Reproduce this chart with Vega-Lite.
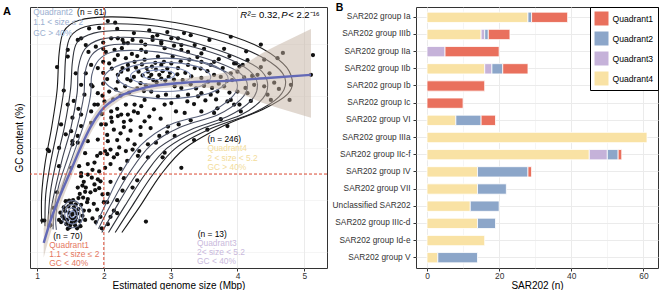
{
"$schema": "https://vega.github.io/schema/vega-lite/v6.json",
"padding": {"left": 2, "top": 2, "right": 1, "bottom": 0},
"spacing": 3,
"config": {
  "font": "Liberation Sans",
  "view": {"stroke": "#333333", "strokeWidth": 1},
  "axis": {"labelFontSize": 8.4, "labelColor": "#333333", "titleFontSize": 10, "titleFontWeight": "normal", "titleColor": "#000000", "tickColor": "#333333", "tickSize": 3, "domain": false, "gridColor": "#ebebeb", "labelPadding": 1}
},
"resolve": {"scale": {"color": "independent"}},
"datasets": {
  "pts": [
    {"x":1.53,"y":32.3},{"x":1.5,"y":31.8},{"x":1.56,"y":32.9},{"x":1.48,"y":32.6},{"x":1.58,"y":31.6},{"x":1.45,"y":31.2},{"x":1.52,"y":30.8},{"x":1.6,"y":32.4},{"x":1.42,"y":32.9},{"x":1.55,"y":33.6},
    {"x":1.47,"y":33.8},{"x":1.62,"y":33.3},{"x":1.38,"y":31.9},{"x":1.44,"y":30.4},{"x":1.57,"y":30.2},{"x":1.64,"y":31.0},{"x":1.51,"y":34.4},{"x":1.4,"y":33.6},{"x":1.66,"y":34.1},{"x":1.36,"y":30.8},
    {"x":1.49,"y":29.8},{"x":1.6,"y":29.6},{"x":1.68,"y":32.0},{"x":1.35,"y":32.6},{"x":1.54,"y":35.0},{"x":1.7,"y":33.0},{"x":1.43,"y":34.8},{"x":1.62,"y":35.4},{"x":1.5,"y":30.3},{"x":1.58,"y":34.2},
    {"x":1.46,"y":29.5},{"x":1.72,"y":31.2},{"x":1.53,"y":31.4},{"x":1.41,"y":31.5},{"x":1.65,"y":30.0},{"x":1.33,"y":31.2},{"x":1.75,"y":34.6},{"x":1.57,"y":31.0},{"x":1.48,"y":34.9},{"x":1.69,"y":35.5},
    {"x":1.08,"y":31.1},{"x":1.11,"y":31.1},{"x":1.2,"y":30.2},{"x":1.25,"y":33.5},{"x":1.3,"y":36.5},
    {"x":1.61,"y":37.4},{"x":1.73,"y":37.4},{"x":1.86,"y":38.0},{"x":1.98,"y":36.1},{"x":2.0,"y":34.6},{"x":1.8,"y":36.5},{"x":1.76,"y":35.2},{"x":1.85,"y":34.3},{"x":1.9,"y":33.2},{"x":1.95,"y":31.8},
    {"x":1.82,"y":39.3},{"x":1.91,"y":39.0},{"x":1.76,"y":39.9},{"x":1.66,"y":39.6},{"x":1.7,"y":38.5},{"x":1.93,"y":37.3},{"x":1.78,"y":33.0},{"x":1.88,"y":30.8},{"x":1.97,"y":29.6},{"x":1.83,"y":31.5},
    {"x":1.72,"y":36.6},{"x":1.64,"y":36.2},{"x":1.95,"y":38.6},{"x":1.87,"y":36.9},{"x":1.68,"y":37.8},
    {"x":1.16,"y":44.7},{"x":1.18,"y":44.4},{"x":1.33,"y":45.0},{"x":1.33,"y":41.5},{"x":1.51,"y":41.2},{"x":1.63,"y":41.5},{"x":1.76,"y":41.9},{"x":1.86,"y":42.2},{"x":1.83,"y":40.8},{"x":1.93,"y":40.5},
    {"x":1.66,"y":40.2},{"x":1.53,"y":45.7},{"x":1.51,"y":48.2},{"x":1.36,"y":49.5},{"x":1.61,"y":47.3},{"x":1.43,"y":47.6},{"x":1.53,"y":46.3},{"x":1.61,"y":46.0},{"x":1.76,"y":46.3},{"x":1.91,"y":46.6},
    {"x":1.81,"y":49.8},{"x":1.66,"y":49.2},{"x":1.96,"y":49.5},{"x":1.53,"y":50.8},{"x":1.66,"y":51.4},{"x":1.81,"y":52.0},{"x":1.46,"y":53.3},{"x":1.91,"y":53.3},{"x":1.71,"y":55.2},{"x":1.83,"y":56.8},
    {"x":1.66,"y":57.1},{"x":1.58,"y":59.3},{"x":1.73,"y":59.3},{"x":1.81,"y":60.9},{"x":1.91,"y":60.3},{"x":1.77,"y":63.4},{"x":1.88,"y":64.4},{"x":1.46,"y":63.8},{"x":1.46,"y":62.5},{"x":1.73,"y":64.7},
    {"x":1.61,"y":65.7},{"x":1.66,"y":66.0},{"x":1.78,"y":67.9},{"x":1.93,"y":68.0},{"x":1.86,"y":53.3},{"x":1.91,"y":55.5},{"x":1.81,"y":57.1},{"x":1.99,"y":65.2},{"x":1.99,"y":64.0},{"x":1.99,"y":61.5},
    {"x":1.99,"y":59.4},{"x":1.99,"y":57.3},{"x":1.98,"y":55.0},{"x":1.97,"y":51.5},{"x":1.95,"y":44.0},{"x":1.9,"y":43.5},{"x":1.72,"y":44.0},{"x":1.4,"y":56.0},{"x":1.3,"y":60.5},{"x":1.55,"y":54.0},{"x":1.62,"y":52.5},
    {"x":2.63,"y":30.9},{"x":2.06,"y":30.4},{"x":2.1,"y":31.8},{"x":2.15,"y":33.0},{"x":2.2,"y":35.0},{"x":2.28,"y":36.8},{"x":2.43,"y":37.4},{"x":2.05,"y":34.6},{"x":2.1,"y":38.5},{"x":2.3,"y":39.2},{"x":2.5,"y":38.8},{"x":2.06,"y":36.2},{"x":2.2,"y":32.5},
    {"x":2.06,"y":69.3},{"x":2.17,"y":69.0},{"x":2.11,"y":66.0},{"x":2.03,"y":63.4},{"x":2.16,"y":63.8},{"x":2.28,"y":65.7},{"x":2.3,"y":65.1},{"x":2.43,"y":65.7},{"x":2.56,"y":63.8},{"x":2.73,"y":65.7},
    {"x":2.86,"y":65.0},{"x":2.91,"y":64.1},{"x":2.81,"y":62.5},{"x":2.63,"y":63.4},{"x":2.33,"y":62.2},{"x":2.36,"y":60.9},{"x":2.28,"y":60.3},{"x":2.21,"y":59.0},{"x":2.46,"y":61.5},{"x":2.61,"y":61.9},
    {"x":2.66,"y":59.6},{"x":2.71,"y":59.0},{"x":2.78,"y":60.0},{"x":2.86,"y":60.9},{"x":2.83,"y":59.0},{"x":3.01,"y":61.2},{"x":3.11,"y":60.3},{"x":3.03,"y":62.5},{"x":3.16,"y":63.8},{"x":3.11,"y":66.0},
    {"x":3.26,"y":60.9},{"x":3.36,"y":60.3},{"x":3.46,"y":61.5},{"x":3.58,"y":65.7},{"x":3.31,"y":58.7},{"x":3.46,"y":58.4},{"x":3.56,"y":57.7},{"x":3.65,"y":59.0},{"x":3.78,"y":60.3},{"x":3.9,"y":59.3},
    {"x":3.95,"y":61.2},{"x":4.0,"y":55.8},{"x":3.8,"y":56.8},{"x":3.7,"y":55.8},{"x":3.6,"y":55.2},{"x":3.46,"y":55.5},{"x":3.41,"y":54.9},{"x":3.26,"y":55.2},{"x":3.16,"y":56.5},{"x":3.06,"y":56.8},
    {"x":2.93,"y":55.2},{"x":2.91,"y":53.3},{"x":3.01,"y":53.6},{"x":3.11,"y":54.9},{"x":2.81,"y":54.9},{"x":2.71,"y":55.8},{"x":2.61,"y":54.2},{"x":2.56,"y":53.0},{"x":2.46,"y":53.3},{"x":2.33,"y":53.3},
    {"x":2.26,"y":51.4},{"x":2.51,"y":51.7},{"x":2.61,"y":50.1},{"x":3.08,"y":52.0},{"x":3.21,"y":51.7},{"x":3.46,"y":52.0},{"x":3.65,"y":51.7},{"x":3.85,"y":53.9},{"x":2.08,"y":55.8},{"x":2.01,"y":53.9},{"x":2.11,"y":52.0},
    {"x":2.21,"y":62.8},{"x":2.16,"y":61.9},{"x":2.26,"y":59.6},{"x":2.21,"y":57.7},{"x":2.36,"y":60.0},{"x":2.21,"y":66.0},{"x":2.36,"y":65.1},{"x":2.56,"y":65.4},{"x":2.73,"y":66.3},{"x":2.86,"y":65.4},
    {"x":3.01,"y":66.0},{"x":3.16,"y":64.7},{"x":3.36,"y":64.7},{"x":3.46,"y":63.1},{"x":3.26,"y":63.4},{"x":3.65,"y":61.5},{"x":2.11,"y":50.8},{"x":2.21,"y":51.1},{"x":2.36,"y":51.4},{"x":2.06,"y":46.3},
    {"x":2.36,"y":46.6},{"x":2.46,"y":45.7},{"x":2.53,"y":44.4},{"x":2.66,"y":45.7},{"x":2.83,"y":47.3},{"x":3.06,"y":47.3},
    {"x":3.98,"y":61.2},{"x":4.03,"y":60.6},{"x":4.08,"y":60.9},{"x":4.4,"y":61.9},{"x":4.48,"y":59.3},{"x":4.25,"y":57.1},{"x":4.4,"y":56.8},{"x":4.8,"y":57.1},{"x":4.78,"y":54.2},{"x":4.5,"y":54.2},
    {"x":5.13,"y":62.8},{"x":5.1,"y":59.0},{"x":3.9,"y":54.2},{"x":3.95,"y":53.3},{"x":4.03,"y":53.3},{"x":3.7,"y":52.6},{"x":4.0,"y":59.6},{"x":4.1,"y":58.5},{"x":3.92,"y":58.0},{"x":4.22,"y":58.8},
    {"x":4.15,"y":55.5},{"x":4.35,"y":60.5},{"x":4.6,"y":62.2},{"x":4.13,"y":63.5},
    {"x":2.02,"y":41.2},{"x":2.1,"y":41.9},{"x":2.15,"y":43.2},{"x":2.2,"y":43.8},{"x":2.05,"y":43.8},{"x":2.02,"y":44.4},{"x":2.1,"y":44.7},{"x":2.23,"y":45.1},{"x":2.33,"y":44.4},{"x":2.43,"y":44.7},
    {"x":2.51,"y":43.5},{"x":2.66,"y":43.2},{"x":2.88,"y":43.2},{"x":2.91,"y":44.1},{"x":3.16,"y":41.2},{"x":2.05,"y":47.5},{"x":2.15,"y":48.5},{"x":2.25,"y":47.8},{"x":2.3,"y":49.0},{"x":2.4,"y":48.3},
    {"x":2.55,"y":47.5},{"x":2.7,"y":48.8},{"x":2.2,"y":46.5},{"x":2.35,"y":42.5},{"x":2.25,"y":41.0},
    {"x":2.68,"y":58.4},{"x":2.74,"y":58.0},{"x":2.79,"y":57.6},{"x":2.86,"y":58.3},{"x":2.92,"y":57.9},{"x":2.97,"y":58.6},{"x":2.88,"y":59.7},{"x":2.95,"y":60.2},{"x":2.72,"y":60.6},{"x":2.64,"y":60.3},
    {"x":2.58,"y":58.9},{"x":2.52,"y":59.6},{"x":2.9,"y":61.5},{"x":2.99,"y":59.4},{"x":3.05,"y":58.1},{"x":3.1,"y":59.1},{"x":3.18,"y":58.0},{"x":3.22,"y":59.4},{"x":3.15,"y":61.6},{"x":2.77,"y":61.3},
    {"x":3.3,"y":57.2},{"x":3.38,"y":56.4},{"x":3.5,"y":56.9},{"x":3.55,"y":59.7},{"x":3.62,"y":56.5},{"x":3.72,"y":57.3},{"x":3.75,"y":58.6},{"x":3.84,"y":57.8},{"x":3.88,"y":55.6},{"x":3.68,"y":54.3},
    {"x":3.52,"y":54.1},{"x":3.35,"y":53.4},{"x":3.25,"y":53.9},{"x":3.45,"y":60.2},{"x":3.6,"y":60.9},{"x":3.72,"y":62.0},{"x":3.88,"y":62.6},{"x":3.8,"y":64.0},{"x":3.4,"y":62.4},{"x":3.28,"y":61.9},
    {"x":2.05,"y":58.2},{"x":2.12,"y":60.2},{"x":2.18,"y":56.2},{"x":2.25,"y":55.0},{"x":2.32,"y":56.8},{"x":2.4,"y":57.9},{"x":2.45,"y":58.6},{"x":2.38,"y":55.6},{"x":2.5,"y":56.4},{"x":2.55,"y":57.4},
    {"x":2.6,"y":55.9},{"x":2.42,"y":63.0},{"x":2.5,"y":62.6},{"x":2.27,"y":64.1},{"x":2.08,"y":61.2},{"x":2.14,"y":54.3},{"x":2.48,"y":60.4},{"x":2.57,"y":61.0},{"x":2.35,"y":58.2},{"x":2.63,"y":57.0},
    {"x":2.03,"y":49.5},{"x":2.12,"y":50.0},{"x":2.2,"y":52.5},{"x":2.4,"y":50.3},{"x":2.55,"y":49.0},{"x":2.68,"y":51.0},{"x":2.75,"y":52.4},{"x":2.85,"y":50.6},{"x":2.96,"y":49.1},{"x":2.45,"y":52.0},
    {"x":2.3,"y":50.0},{"x":2.78,"y":46.0},{"x":2.95,"y":48.0},{"x":3.12,"y":49.5},{"x":3.3,"y":50.3},
    {"x":2.95,"y":67.2},{"x":3.2,"y":67.0},{"x":3.05,"y":64.6},{"x":2.68,"y":67.5},{"x":2.45,"y":67.0},{"x":2.2,"y":67.8},{"x":3.5,"y":64.0},{"x":3.3,"y":66.6},{"x":2.62,"y":64.8},{"x":2.8,"y":66.6},
    {"x":4.12,"y":56.5},{"x":4.3,"y":59.0},{"x":4.55,"y":57.5},{"x":4.2,"y":54.0},{"x":4.05,"y":52.0},{"x":3.75,"y":50.5},{"x":4.35,"y":64.8},{"x":4.68,"y":63.2},{"x":4.62,"y":56.3},{"x":3.9,"y":66.3},
    {"x":4.15,"y":61.8},{"x":4.45,"y":55.2},{"x":3.55,"y":48.5},{"x":3.35,"y":46.5},{"x":3.85,"y":49.2}
  ],
  "cont": [
    {"c":"k1","l":1,"o":1,"x":2.27,"y":28.8},{"c":"k1","l":1,"o":2,"x":2.55,"y":34},{"c":"k1","l":1,"o":3,"x":2.86,"y":40},{"c":"k1","l":1,"o":4,"x":3.22,"y":45},{"c":"k1","l":1,"o":5,"x":3.8,"y":49.3},{"c":"k1","l":1,"o":6,"x":4.4,"y":52.5},{"c":"k1","l":1,"o":7,"x":4.75,"y":55.3},{"c":"k1","l":1,"o":8,"x":4.82,"y":58},{"c":"k1","l":1,"o":9,"x":4.68,"y":61.2},{"c":"k1","l":1,"o":10,"x":4.25,"y":64.8},{"c":"k1","l":1,"o":11,"x":3.6,"y":67.6},{"c":"k1","l":1,"o":12,"x":2.8,"y":69.5},{"c":"k1","l":1,"o":13,"x":2.1,"y":70.1},{"c":"k1","l":1,"o":14,"x":1.62,"y":69.4},{"c":"k1","l":1,"o":15,"x":1.4,"y":67.3},{"c":"k1","l":1,"o":16,"x":1.33,"y":63},{"c":"k1","l":1,"o":17,"x":1.3,"y":56},{"c":"k1","l":1,"o":18,"x":1.22,"y":49},{"c":"k1","l":1,"o":19,"x":1.12,"y":42},{"c":"k1","l":1,"o":20,"x":1.07,"y":36},{"c":"k1","l":1,"o":21,"x":1.07,"y":30.5},
    {"c":"k2","l":2,"o":1,"x":2.17,"y":28.8},{"c":"k2","l":2,"o":2,"x":2.43,"y":34},{"c":"k2","l":2,"o":3,"x":2.74,"y":40},{"c":"k2","l":2,"o":4,"x":3.08,"y":45},{"c":"k2","l":2,"o":5,"x":3.62,"y":48.8},{"c":"k2","l":2,"o":6,"x":4.25,"y":51.8},{"c":"k2","l":2,"o":7,"x":4.62,"y":54.8},{"c":"k2","l":2,"o":8,"x":4.72,"y":57.8},{"c":"k2","l":2,"o":9,"x":4.58,"y":60.6},{"c":"k2","l":2,"o":10,"x":4.15,"y":63.7},{"c":"k2","l":2,"o":11,"x":3.5,"y":66.4},{"c":"k2","l":2,"o":12,"x":2.8,"y":68.3},{"c":"k2","l":2,"o":13,"x":2.15,"y":68.8},{"c":"k2","l":2,"o":14,"x":1.72,"y":68.2},{"c":"k2","l":2,"o":15,"x":1.5,"y":66.3},{"c":"k2","l":2,"o":16,"x":1.43,"y":62.5},{"c":"k2","l":2,"o":17,"x":1.4,"y":56},{"c":"k2","l":2,"o":18,"x":1.31,"y":49},{"c":"k2","l":2,"o":19,"x":1.2,"y":42},{"c":"k2","l":2,"o":20,"x":1.13,"y":36},{"c":"k2","l":2,"o":21,"x":1.12,"y":30},
    {"c":"k3","l":3,"o":1,"x":2.07,"y":28.8},{"c":"k3","l":3,"o":2,"x":2.32,"y":34},{"c":"k3","l":3,"o":3,"x":2.62,"y":40},{"c":"k3","l":3,"o":4,"x":2.95,"y":45},{"c":"k3","l":3,"o":5,"x":3.45,"y":48.6},{"c":"k3","l":3,"o":6,"x":4.05,"y":51.3},{"c":"k3","l":3,"o":7,"x":4.38,"y":54.5},{"c":"k3","l":3,"o":8,"x":4.45,"y":57.5},{"c":"k3","l":3,"o":9,"x":4.32,"y":60.2},{"c":"k3","l":3,"o":10,"x":3.95,"y":62.6},{"c":"k3","l":3,"o":11,"x":3.4,"y":65.0},{"c":"k3","l":3,"o":12,"x":2.8,"y":67},{"c":"k3","l":3,"o":13,"x":2.25,"y":67.5},{"c":"k3","l":3,"o":14,"x":1.85,"y":67},{"c":"k3","l":3,"o":15,"x":1.6,"y":65.2},{"c":"k3","l":3,"o":16,"x":1.53,"y":61.5},{"c":"k3","l":3,"o":17,"x":1.5,"y":56},{"c":"k3","l":3,"o":18,"x":1.41,"y":49},{"c":"k3","l":3,"o":19,"x":1.29,"y":42.5},{"c":"k3","l":3,"o":20,"x":1.2,"y":36.5},{"c":"k3","l":3,"o":21,"x":1.16,"y":29.8},
    {"c":"k4","l":4,"o":1,"x":1.97,"y":28.8},{"c":"k4","l":4,"o":2,"x":2.2,"y":34},{"c":"k4","l":4,"o":3,"x":2.49,"y":40},{"c":"k4","l":4,"o":4,"x":2.82,"y":45},{"c":"k4","l":4,"o":5,"x":3.3,"y":48.5},{"c":"k4","l":4,"o":6,"x":3.85,"y":51},{"c":"k4","l":4,"o":7,"x":4.2,"y":54},{"c":"k4","l":4,"o":8,"x":4.3,"y":57.2},{"c":"k4","l":4,"o":9,"x":4.18,"y":59.8},{"c":"k4","l":4,"o":10,"x":3.85,"y":62.2},{"c":"k4","l":4,"o":11,"x":3.35,"y":64.3},{"c":"k4","l":4,"o":12,"x":2.8,"y":65.8},{"c":"k4","l":4,"o":13,"x":2.3,"y":66.2},{"c":"k4","l":4,"o":14,"x":1.95,"y":65.8},{"c":"k4","l":4,"o":15,"x":1.72,"y":64},{"c":"k4","l":4,"o":16,"x":1.62,"y":60.5},{"c":"k4","l":4,"o":17,"x":1.6,"y":55.5},{"c":"k4","l":4,"o":18,"x":1.51,"y":49},{"c":"k4","l":4,"o":19,"x":1.38,"y":43},{"c":"k4","l":4,"o":20,"x":1.27,"y":37},{"c":"k4","l":4,"o":21,"x":1.21,"y":33},{"c":"k4","l":4,"o":22,"x":1.2,"y":29.6},
    {"c":"k5","l":5,"o":1,"x":1.92,"y":29.5},{"c":"k5","l":5,"o":2,"x":2.1,"y":34},{"c":"k5","l":5,"o":3,"x":2.37,"y":40},{"c":"k5","l":5,"o":4,"x":2.7,"y":45.5},{"c":"k5","l":5,"o":5,"x":3.15,"y":49},{"c":"k5","l":5,"o":6,"x":3.7,"y":51.3},{"c":"k5","l":5,"o":7,"x":4.05,"y":54.3},{"c":"k5","l":5,"o":8,"x":4.15,"y":57},{"c":"k5","l":5,"o":9,"x":4.03,"y":59.4},{"c":"k5","l":5,"o":10,"x":3.7,"y":61.4},{"c":"k5","l":5,"o":11,"x":3.25,"y":63.2},{"c":"k5","l":5,"o":12,"x":2.8,"y":64.6},{"c":"k5","l":5,"o":13,"x":2.35,"y":64.9},{"c":"k5","l":5,"o":14,"x":2.03,"y":64.5},{"c":"k5","l":5,"o":15,"x":1.82,"y":62.8},{"c":"k5","l":5,"o":16,"x":1.72,"y":59.5},{"c":"k5","l":5,"o":17,"x":1.7,"y":55},{"c":"k5","l":5,"o":18,"x":1.6,"y":49},{"c":"k5","l":5,"o":19,"x":1.47,"y":43.5},{"c":"k5","l":5,"o":20,"x":1.33,"y":38},{"c":"k5","l":5,"o":21,"x":1.26,"y":33.5},{"c":"k5","l":5,"o":22,"x":1.24,"y":29.4},
    {"c":"k6","l":6,"o":1,"x":1.88,"y":30.2},{"c":"k6","l":6,"o":2,"x":2.02,"y":34},{"c":"k6","l":6,"o":3,"x":2.25,"y":40},{"c":"k6","l":6,"o":4,"x":2.55,"y":45.5},{"c":"k6","l":6,"o":5,"x":3.0,"y":49.5},{"c":"k6","l":6,"o":6,"x":3.55,"y":51.6},{"c":"k6","l":6,"o":7,"x":3.9,"y":54.5},{"c":"k6","l":6,"o":8,"x":4.0,"y":57},{"c":"k6","l":6,"o":9,"x":3.88,"y":59.2},{"c":"k6","l":6,"o":10,"x":3.55,"y":61},{"c":"k6","l":6,"o":11,"x":3.15,"y":62.5},{"c":"k6","l":6,"o":12,"x":2.8,"y":63.4},{"c":"k6","l":6,"o":13,"x":2.4,"y":63.7},{"c":"k6","l":6,"o":14,"x":2.1,"y":63.3},{"c":"k6","l":6,"o":15,"x":1.92,"y":61.8},{"c":"k6","l":6,"o":16,"x":1.82,"y":59},{"c":"k6","l":6,"o":17,"x":1.8,"y":55},{"c":"k6","l":6,"o":18,"x":1.7,"y":49.5},{"c":"k6","l":6,"o":19,"x":1.55,"y":44},{"c":"k6","l":6,"o":20,"x":1.4,"y":38.5},{"c":"k6","l":6,"o":21,"x":1.31,"y":34.5},{"c":"k6","l":6,"o":22,"x":1.28,"y":31.5},{"c":"k6","l":6,"o":23,"x":1.29,"y":29.3}
  ],
  "rings": [
    {"c":"R4","l":7,"o":1,"x":3.86,"y":58.3},{"c":"R4","l":7,"o":2,"x":3.59,"y":61.06},{"c":"R4","l":7,"o":3,"x":2.93,"y":62.2},{"c":"R4","l":7,"o":4,"x":2.27,"y":61.06},{"c":"R4","l":7,"o":5,"x":2.0,"y":58.3},{"c":"R4","l":7,"o":6,"x":2.27,"y":55.54},{"c":"R4","l":7,"o":7,"x":2.93,"y":54.4},{"c":"R4","l":7,"o":8,"x":3.59,"y":55.54},
    {"c":"R3","l":8,"o":1,"x":3.6,"y":58.6},{"c":"R3","l":8,"o":2,"x":3.4,"y":60.58},{"c":"R3","l":8,"o":3,"x":2.9,"y":61.4},{"c":"R3","l":8,"o":4,"x":2.4,"y":60.58},{"c":"R3","l":8,"o":5,"x":2.2,"y":58.6},{"c":"R3","l":8,"o":6,"x":2.4,"y":56.62},{"c":"R3","l":8,"o":7,"x":2.9,"y":55.8},{"c":"R3","l":8,"o":8,"x":3.4,"y":56.62},
    {"c":"R2","l":9,"o":1,"x":3.3,"y":58.8},{"c":"R2","l":9,"o":2,"x":3.17,"y":60.04},{"c":"R2","l":9,"o":3,"x":2.85,"y":60.55},{"c":"R2","l":9,"o":4,"x":2.53,"y":60.04},{"c":"R2","l":9,"o":5,"x":2.4,"y":58.8},{"c":"R2","l":9,"o":6,"x":2.53,"y":57.56},{"c":"R2","l":9,"o":7,"x":2.85,"y":57.05},{"c":"R2","l":9,"o":8,"x":3.17,"y":57.56},
    {"c":"R1","l":10,"o":1,"x":3.06,"y":59.0},{"c":"R1","l":10,"o":2,"x":2.99,"y":59.64},{"c":"R1","l":10,"o":3,"x":2.82,"y":59.9},{"c":"R1","l":10,"o":4,"x":2.65,"y":59.64},{"c":"R1","l":10,"o":5,"x":2.58,"y":59.0},{"c":"R1","l":10,"o":6,"x":2.65,"y":58.36},{"c":"R1","l":10,"o":7,"x":2.82,"y":58.1},{"c":"R1","l":10,"o":8,"x":2.99,"y":58.36},
    {"c":"L4","l":7,"o":1,"x":1.69,"y":32.3},{"c":"L4","l":7,"o":2,"x":1.642,"y":34.12},{"c":"L4","l":7,"o":3,"x":1.53,"y":34.9},{"c":"L4","l":7,"o":4,"x":1.418,"y":34.12},{"c":"L4","l":7,"o":5,"x":1.37,"y":32.3},{"c":"L4","l":7,"o":6,"x":1.418,"y":30.48},{"c":"L4","l":7,"o":7,"x":1.53,"y":29.7},{"c":"L4","l":7,"o":8,"x":1.642,"y":30.48},
    {"c":"L3","l":8,"o":1,"x":1.645,"y":32.3},{"c":"L3","l":8,"o":2,"x":1.61,"y":33.63},{"c":"L3","l":8,"o":3,"x":1.53,"y":34.2},{"c":"L3","l":8,"o":4,"x":1.45,"y":33.63},{"c":"L3","l":8,"o":5,"x":1.415,"y":32.3},{"c":"L3","l":8,"o":6,"x":1.45,"y":30.97},{"c":"L3","l":8,"o":7,"x":1.53,"y":30.4},{"c":"L3","l":8,"o":8,"x":1.61,"y":30.97},
    {"c":"L2","l":9,"o":1,"x":1.605,"y":32.3},{"c":"L2","l":9,"o":2,"x":1.583,"y":33.18},{"c":"L2","l":9,"o":3,"x":1.53,"y":33.55},{"c":"L2","l":9,"o":4,"x":1.477,"y":33.18},{"c":"L2","l":9,"o":5,"x":1.455,"y":32.3},{"c":"L2","l":9,"o":6,"x":1.477,"y":31.42},{"c":"L2","l":9,"o":7,"x":1.53,"y":31.05},{"c":"L2","l":9,"o":8,"x":1.583,"y":31.42},
    {"c":"L1","l":10,"o":1,"x":1.57,"y":32.3},{"c":"L1","l":10,"o":2,"x":1.558,"y":32.76},{"c":"L1","l":10,"o":3,"x":1.53,"y":32.95},{"c":"L1","l":10,"o":4,"x":1.502,"y":32.76},{"c":"L1","l":10,"o":5,"x":1.49,"y":32.3},{"c":"L1","l":10,"o":6,"x":1.502,"y":31.84},{"c":"L1","l":10,"o":7,"x":1.53,"y":31.65},{"c":"L1","l":10,"o":8,"x":1.558,"y":31.84}
  ],
  "sm": [
    {"x":1.1,"y":26.8,"lo":24.0,"hi":29.6},{"x":1.2,"y":31,"lo":28.6,"hi":33.4},{"x":1.35,"y":36,"lo":34.1,"hi":37.9},{"x":1.5,"y":40.5,"lo":39.0,"hi":42.0},{"x":1.65,"y":45,"lo":43.6,"hi":46.4},{"x":1.8,"y":49,"lo":47.7,"hi":50.3},{"x":1.95,"y":52,"lo":50.9,"hi":53.1},{"x":2.2,"y":54.6,"lo":53.8,"hi":55.4},{"x":2.6,"y":56.5,"lo":55.8,"hi":57.2},{"x":3.2,"y":57.5,"lo":56.7,"hi":58.3},{"x":3.9,"y":57.9,"lo":55.9,"hi":59.8},{"x":4.45,"y":58.4,"lo":53.3,"hi":63.7},{"x":5.1,"y":59.0,"lo":50.8,"hi":67.8}
  ],
  "ann": [
    {"x":0.944,"y":71.05,"t":"Quadrant2","k":"Q2"},{"x":1.6,"y":71.05,"t":"(n = 61)","k":"n"},{"x":0.944,"y":69.1,"t":"1.1 < size ≤ 2","k":"Q2"},{"x":0.944,"y":67.1,"t":"GC > 40%","k":"Q2"},
    {"x":3.55,"y":46.7,"t":"(n = 246)","k":"n"},{"x":3.55,"y":44.9,"t":"Quadrant4","k":"Q4"},{"x":3.55,"y":43.1,"t":"2 < size < 5.2","k":"Q4"},{"x":3.55,"y":41.3,"t":"GC > 40%","k":"Q4"},
    {"x":1.244,"y":28.1,"t":"(n = 70)","k":"n"},{"x":1.184,"y":26.4,"t":"Quadrant1","k":"Q1"},{"x":1.184,"y":24.7,"t":"1.1 < size ≤ 2","k":"Q1"},{"x":1.184,"y":23.0,"t":"GC < 40%","k":"Q1"},
    {"x":3.405,"y":28.5,"t":"(n = 13)","k":"n"},{"x":3.395,"y":26.8,"t":"Quadrant3","k":"Q3"},{"x":3.395,"y":25.1,"t":"2< size < 5.2","k":"Q3"},{"x":3.395,"y":23.4,"t":"GC < 40%","k":"Q3"},
    {"x":4.043,"y":70.5,"t":"R²","k":"it"},{"x":4.2,"y":70.5,"t":"= 0.32,","k":"r"},{"x":4.655,"y":70.5,"t":"P","k":"it"},{"x":4.76,"y":70.5,"t":"< 2.2⁻¹⁶","k":"r"},
    {"x":0.491,"y":70.95,"t":"A","k":"b"}
  ],
  "bars": [
    {"g":"SAR202 group Ia","q":"Quadrant4","n":28},{"g":"SAR202 group Ia","q":"Quadrant2","n":1},{"g":"SAR202 group Ia","q":"Quadrant1","n":10},
    {"g":"SAR202 group IIIb","q":"Quadrant4","n":15},{"g":"SAR202 group IIIb","q":"Quadrant3","n":1},{"g":"SAR202 group IIIb","q":"Quadrant2","n":1},{"g":"SAR202 group IIIb","q":"Quadrant1","n":6},
    {"g":"SAR202 group IIa","q":"Quadrant3","n":5},{"g":"SAR202 group IIa","q":"Quadrant1","n":15},
    {"g":"SAR202 group IIb","q":"Quadrant4","n":16},{"g":"SAR202 group IIb","q":"Quadrant3","n":2},{"g":"SAR202 group IIb","q":"Quadrant2","n":3},{"g":"SAR202 group IIb","q":"Quadrant1","n":7},
    {"g":"SAR202 group Ib","q":"Quadrant1","n":16},
    {"g":"SAR202 group Ic","q":"Quadrant1","n":10},
    {"g":"SAR202 group VI","q":"Quadrant4","n":8},{"g":"SAR202 group VI","q":"Quadrant2","n":7},{"g":"SAR202 group VI","q":"Quadrant1","n":4},
    {"g":"SAR202 group IIIa","q":"Quadrant4","n":61},
    {"g":"SAR202 group IIc-f","q":"Quadrant4","n":45},{"g":"SAR202 group IIc-f","q":"Quadrant3","n":5},{"g":"SAR202 group IIc-f","q":"Quadrant2","n":3},{"g":"SAR202 group IIc-f","q":"Quadrant1","n":1},
    {"g":"SAR202 group IV","q":"Quadrant4","n":14},{"g":"SAR202 group IV","q":"Quadrant2","n":14},{"g":"SAR202 group IV","q":"Quadrant1","n":1},
    {"g":"SAR202 group VII","q":"Quadrant4","n":14},{"g":"SAR202 group VII","q":"Quadrant2","n":8},
    {"g":"Unclassified SAR202","q":"Quadrant4","n":12},{"g":"Unclassified SAR202","q":"Quadrant2","n":8},
    {"g":"SAR202 group IIIc-d","q":"Quadrant4","n":14},{"g":"SAR202 group IIIc-d","q":"Quadrant2","n":5},
    {"g":"SAR202 group Id-e","q":"Quadrant4","n":16},
    {"g":"SAR202 group V","q":"Quadrant4","n":3},{"g":"SAR202 group V","q":"Quadrant2","n":11}
  ]
},
"hconcat": [
  {
    "width": 297, "height": 261,
    "layer": [
      {"data": {"name": "pts"}, "mark": {"type": "circle", "size": 18, "color": "#111111", "opacity": 1},
       "encoding": {
         "x": {"field": "x", "type": "quantitative", "scale": {"domain": [0.895, 5.34], "nice": false, "zero": false},
               "axis": {"title": "Estimated genome size (Mbp)", "values": [1,1.5,2,2.5,3,3.5,4,4.5,5], "labelExpr": "datum.value % 1 == 0 ? '' + datum.value : ''", "tickOpacity": {"condition": {"test": "datum.value % 1 != 0", "value": 0}, "value": 1}, "gridWidth": {"condition": {"test": "datum.value % 1 != 0", "value": 0.5}, "value": 1}, "labelPadding": 0, "titlePadding": 1}},
         "y": {"field": "y", "type": "quantitative", "scale": {"domain": [22, 72], "nice": false, "zero": false},
               "axis": {"title": "GC content (%)", "values": [25,30,35,40,45,50,55,60,65,70], "labelExpr": "datum.value % 10 == 0 ? '' + datum.value : ''", "tickOpacity": {"condition": {"test": "datum.value % 10 != 0", "value": 0}, "value": 1}, "gridWidth": {"condition": {"test": "datum.value % 10 != 0", "value": 0.5}, "value": 1}, "titlePadding": 2}}
       }},
      {"data": {"name": "cont"}, "mark": {"type": "line", "interpolate": "cardinal", "strokeWidth": 1.1},
       "encoding": {
         "x": {"field": "x", "type": "quantitative", "scale": {"domain": [0.895, 5.34], "nice": false, "zero": false}},
         "y": {"field": "y", "type": "quantitative", "scale": {"domain": [22, 72], "nice": false, "zero": false}},
         "detail": {"field": "c"}, "order": {"field": "o"},
         "stroke": {"field": "l", "type": "quantitative", "scale": {"domain": [1, 10], "range": ["#1a1a1a", "#8c9ccc"]}, "legend": null}
       }},
      {"data": {"name": "rings"}, "mark": {"type": "line", "interpolate": "cardinal-closed", "strokeWidth": 1.1},
       "encoding": {
         "x": {"field": "x", "type": "quantitative", "scale": {"domain": [0.895, 5.34], "nice": false, "zero": false}},
         "y": {"field": "y", "type": "quantitative", "scale": {"domain": [22, 72], "nice": false, "zero": false}},
         "detail": {"field": "c"}, "order": {"field": "o"},
         "stroke": {"field": "l", "type": "quantitative", "scale": {"domain": [1, 10], "range": ["#1a1a1a", "#8c9ccc"]}, "legend": null}
       }},
      {"data": {"name": "sm"}, "mark": {"type": "area", "color": "#c4b2a2", "opacity": 0.5, "interpolate": "monotone"},
       "encoding": {
         "x": {"field": "x", "type": "quantitative", "scale": {"domain": [0.895, 5.34], "nice": false, "zero": false}},
         "y": {"field": "lo", "type": "quantitative", "scale": {"domain": [22, 72], "nice": false, "zero": false}},
         "y2": {"field": "hi"}
       }},
      {"data": {"name": "sm"}, "mark": {"type": "line", "color": "#6369b6", "strokeWidth": 2.4, "interpolate": "monotone"},
       "encoding": {
         "x": {"field": "x", "type": "quantitative", "scale": {"domain": [0.895, 5.34], "nice": false, "zero": false}},
         "y": {"field": "y", "type": "quantitative", "scale": {"domain": [22, 72], "nice": false, "zero": false}}
       }},
      {"data": {"values": [{}]}, "mark": {"type": "rule", "color": "#d9472f", "strokeDash": [3, 2], "strokeWidth": 1},
       "encoding": {"x": {"datum": 2, "type": "quantitative", "scale": {"domain": [0.895, 5.34], "nice": false, "zero": false}}}},
      {"data": {"values": [{}]}, "mark": {"type": "rule", "color": "#d9472f", "strokeDash": [3, 2], "strokeWidth": 1},
       "encoding": {"y": {"datum": 40, "type": "quantitative", "scale": {"domain": [22, 72], "nice": false, "zero": false}}}},
      {"data": {"name": "ann"}, "transform": [{"filter": {"field": "k", "equal": "n"}}],
       "mark": {"type": "text", "align": "left", "baseline": "middle", "fontSize": 8.4, "color": "#000000"},
       "encoding": {"x": {"field": "x", "type": "quantitative"}, "y": {"field": "y", "type": "quantitative"}, "text": {"field": "t"}}},
      {"data": {"name": "ann"}, "transform": [{"filter": {"field": "k", "equal": "r"}}],
       "mark": {"type": "text", "align": "left", "baseline": "middle", "fontSize": 9.5, "color": "#000000"},
       "encoding": {"x": {"field": "x", "type": "quantitative"}, "y": {"field": "y", "type": "quantitative"}, "text": {"field": "t"}}},
      {"data": {"name": "ann"}, "transform": [{"filter": {"field": "k", "equal": "it"}}],
       "mark": {"type": "text", "align": "left", "baseline": "middle", "fontSize": 9.5, "fontStyle": "italic", "color": "#000000"},
       "encoding": {"x": {"field": "x", "type": "quantitative"}, "y": {"field": "y", "type": "quantitative"}, "text": {"field": "t"}}},
      {"data": {"name": "ann"}, "transform": [{"filter": {"field": "k", "equal": "b"}}],
       "mark": {"type": "text", "align": "left", "baseline": "middle", "fontSize": 11, "fontWeight": "bold", "color": "#000000"},
       "encoding": {"x": {"field": "x", "type": "quantitative"}, "y": {"field": "y", "type": "quantitative"}, "text": {"field": "t"}}},
      {"data": {"name": "ann"}, "transform": [{"filter": {"field": "k", "equal": "Q1"}}],
       "mark": {"type": "text", "align": "left", "baseline": "middle", "fontSize": 8.4, "color": "#e5785f"},
       "encoding": {"x": {"field": "x", "type": "quantitative"}, "y": {"field": "y", "type": "quantitative"}, "text": {"field": "t"}}},
      {"data": {"name": "ann"}, "transform": [{"filter": {"field": "k", "equal": "Q2"}}],
       "mark": {"type": "text", "align": "left", "baseline": "middle", "fontSize": 8.4, "color": "#9aafd0"},
       "encoding": {"x": {"field": "x", "type": "quantitative"}, "y": {"field": "y", "type": "quantitative"}, "text": {"field": "t"}}},
      {"data": {"name": "ann"}, "transform": [{"filter": {"field": "k", "equal": "Q3"}}],
       "mark": {"type": "text", "align": "left", "baseline": "middle", "fontSize": 8.4, "color": "#c9b9dc"},
       "encoding": {"x": {"field": "x", "type": "quantitative"}, "y": {"field": "y", "type": "quantitative"}, "text": {"field": "t"}}},
      {"data": {"name": "ann"}, "transform": [{"filter": {"field": "k", "equal": "Q4"}}],
       "mark": {"type": "text", "align": "left", "baseline": "middle", "fontSize": 8.4, "color": "#f3dc9a"},
       "encoding": {"x": {"field": "x", "type": "quantitative"}, "y": {"field": "y", "type": "quantitative"}, "text": {"field": "t"}}}
    ]
  },
  {
    "width": 242, "height": 261,
    "layer": [
      {"data": {"name": "bars"}, "mark": {"type": "bar", "stroke": "#ffffff", "strokeWidth": 0.8},
       "encoding": {
         "y": {"field": "g", "type": "nominal",
               "sort": ["SAR202 group Ia","SAR202 group IIIb","SAR202 group IIa","SAR202 group IIb","SAR202 group Ib","SAR202 group Ic","SAR202 group VI","SAR202 group IIIa","SAR202 group IIc-f","SAR202 group IV","SAR202 group VII","Unclassified SAR202","SAR202 group IIIc-d","SAR202 group Id-e","SAR202 group V"],
               "scale": {"paddingInner": 0.4, "paddingOuter": 0.3},
               "axis": {"title": null, "grid": true, "gridWidth": 1, "labelPadding": 3, "labelFontSize": 8.3}},
         "x": {"field": "n", "type": "quantitative", "stack": "zero", "scale": {"domain": [-3.05, 64.05], "nice": false, "zero": false},
               "axis": {"title": "SAR202 (n)", "values": [0,10,20,30,40,50,60], "labelExpr": "datum.value % 20 == 0 ? '' + datum.value : ''", "tickOpacity": {"condition": {"test": "datum.value % 20 != 0", "value": 0}, "value": 1}, "gridWidth": {"condition": {"test": "datum.value % 20 != 0", "value": 0.5}, "value": 1}, "labelPadding": 0, "titlePadding": 1}},
         "color": {"field": "q", "type": "nominal",
                   "scale": {"domain": ["Quadrant1","Quadrant2","Quadrant3","Quadrant4"], "range": ["#e9705d","#8ca6c9","#c5b2d9","#f9e2a4"]},
                   "legend": {"orient": "top-right", "title": null, "offset": 0, "padding": 4.5, "fillColor": "#ffffff", "strokeColor": "#000000", "symbolType": "square", "symbolSize": 196, "symbolStrokeWidth": 0, "symbolOpacity": 1, "labelFontSize": 8.6, "labelColor": "#000000", "rowPadding": 6, "labelOffset": 4}},
         "order": {"field": "q", "sort": "descending"}
       }},
      {"data": {"values": [{}]}, "mark": {"type": "text", "text": "B", "fontSize": 10.5, "fontWeight": "bold", "align": "left", "baseline": "middle", "dy": -9.5},
       "encoding": {"x": {"datum": -25.3, "type": "quantitative", "scale": {"domain": [-3.05, 64.05], "nice": false, "zero": false}}, "y": {"datum": "SAR202 group Ia", "type": "nominal"}}}
    ]
  }
]
}
